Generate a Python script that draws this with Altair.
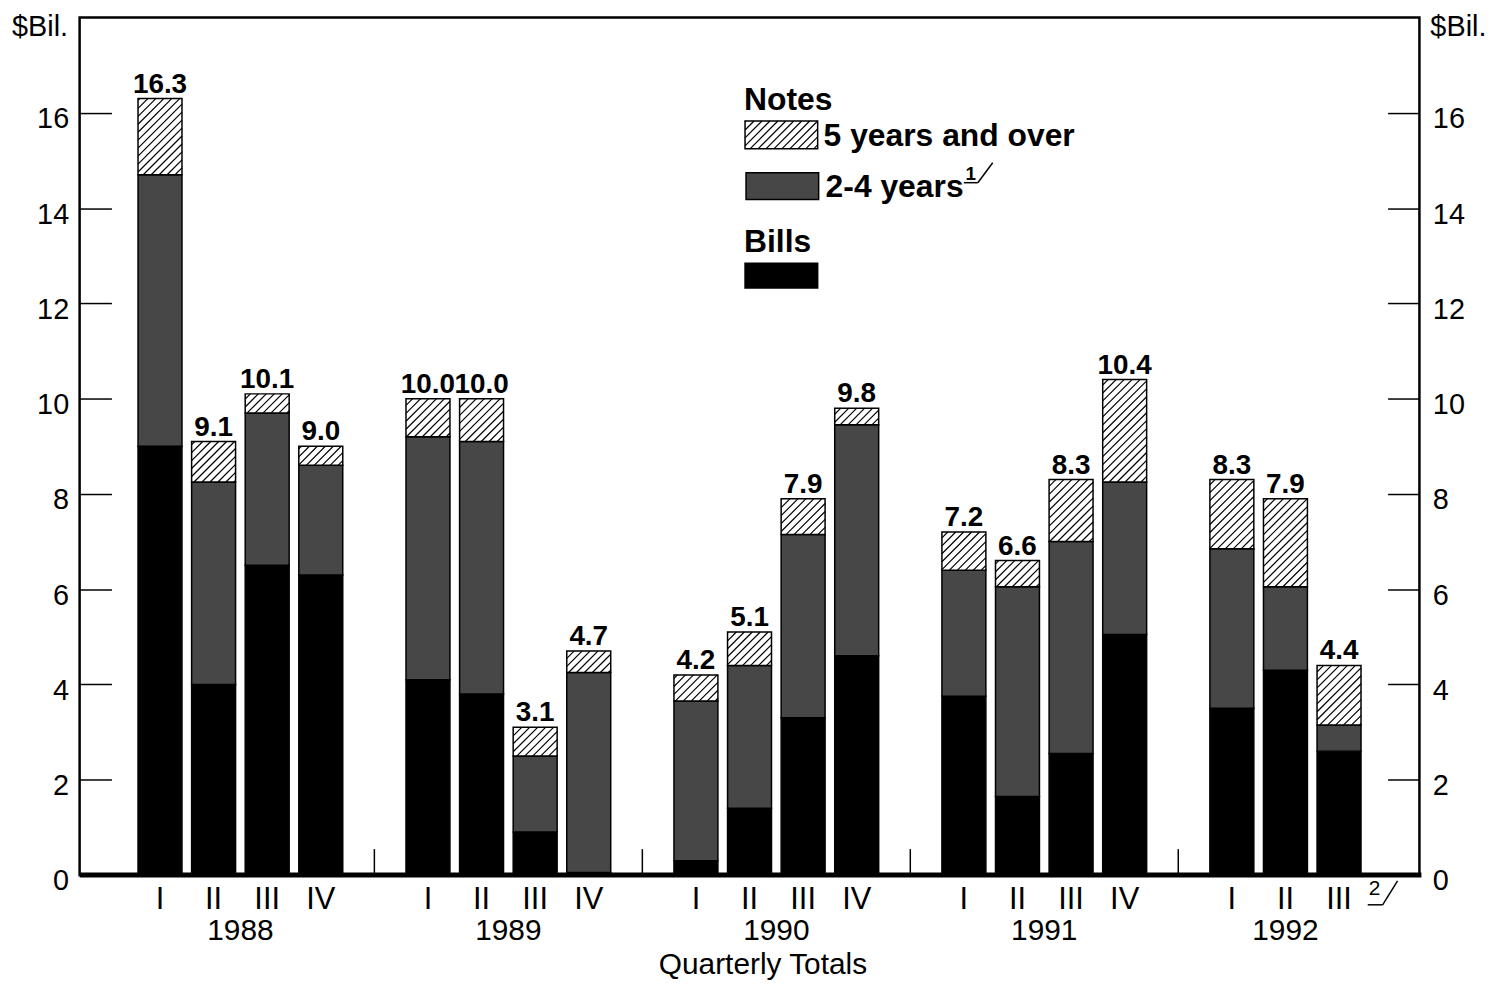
import math
import altair as alt
import pandas as pd

# ---------------- data ----------------
years = ["1988", "1989", "1990", "1991", "1992"]
quarters = [
    ["I", "II", "III", "IV"],
    ["I", "II", "III", "IV"],
    ["I", "II", "III", "IV"],
    ["I", "II", "III", "IV"],
    ["I", "II", "III"],
]
bills = [9.0, 4.0, 6.5, 6.3, 4.1, 3.8, 0.9, 0.05, 0.3, 1.4, 3.3, 4.6,
         3.75, 1.65, 2.55, 5.05, 3.5, 4.3, 2.6]
notes_2_4 = [5.7, 4.25, 3.2, 2.3, 5.1, 5.3, 1.6, 4.2, 3.35, 3.0, 3.85, 4.85,
             2.65, 4.4, 4.45, 3.2, 3.35, 1.75, 0.55]
notes_5_over = [1.6, 0.85, 0.4, 0.4, 0.8, 0.9, 0.6, 0.45, 0.55, 0.7, 0.75, 0.35,
                0.8, 0.55, 1.3, 2.15, 1.45, 1.85, 1.25]
totals = [16.3, 9.1, 10.1, 9.0, 10.0, 10.0, 3.1, 4.7, 4.2, 5.1, 7.9, 9.8,
          7.2, 6.6, 8.3, 10.4, 8.3, 7.9, 4.4]
y_ticks = [0, 2, 4, 6, 8, 10, 12, 14, 16]

# ---------------- layout / style ----------------
FONT = "Liberation Sans"
W, H = 1347, 862
X_MAX, Y_MAX = 25, 18
SLOTS_PER_YEAR = 5
HALF = 0.41
HATCH_STEP = 8.0
SX, SY = W / X_MAX, H / Y_MAX
C_BILLS, C_MID, C_LONG = "#000000", "#474747", "#ffffff"

xscale = alt.Scale(domain=[0, X_MAX], nice=False, zero=False)
yscale = alt.Scale(domain=[0, Y_MAX], nice=False, zero=True)

# ---------------- build tables ----------------
seg_rows, bar_rows = [], []
k = 0
for yi, (yr, qs) in enumerate(zip(years, quarters)):
    for qi, q in enumerate(qs):
        pos = 1.5 + yi * SLOTS_PER_YEAR + qi
        b, m, l = bills[k], notes_2_4[k], notes_5_over[k]
        bar_rows.append(dict(pos=pos, year=yr, quarter=q, total=totals[k],
                             label=f"{totals[k]:.1f}",
                             lo5=b + m, hi5=b + m + l))
        for name, lo, hi in [("Bills", 0, b), ("2-4 years", b, b + m),
                             ("5 years and over", b + m, b + m + l)]:
            seg_rows.append(dict(pos=pos, x0=pos - HALF, x1=pos + HALF,
                                 lo=lo, hi=hi, series=name))
        k += 1
segs = pd.DataFrame(seg_rows)
bars = pd.DataFrame(bar_rows)


def hatch(X0, X1, Y0, Y1):
    """45-degree '/' hatch lines inside a pixel rectangle (y up); returns data units."""
    out = []
    kmin = math.ceil((Y0 - X1) / HATCH_STEP)
    kmax = math.floor((Y1 - X0) / HATCH_STEP)
    for kk in range(kmin, kmax + 1):
        c = kk * HATCH_STEP
        xa = max(X0, Y0 - c)
        xb = min(X1, Y1 - c)
        if xb - xa > 0.8:
            out.append(dict(hx=xa / SX, hy=(xa + c) / SY,
                            hx2=xb / SX, hy2=(xb + c) / SY))
    return out


hrows = []
for r in bar_rows:
    hrows += hatch((r["pos"] - HALF) * SX, (r["pos"] + HALF) * SX,
                   r["lo5"] * SY, r["hi5"] * SY)
# legend hatch box (plot pixels, y down)
LB = dict(x0=669, x1=742, y0=104, y1=132)
hrows += hatch(LB["x0"], LB["x1"], H - LB["y1"], H - LB["y0"])
hatch_df = pd.DataFrame(hrows)

year_df = bars.groupby("year", as_index=False)["pos"].mean()
gap_df = pd.DataFrame({"gap": [SLOTS_PER_YEAR * i + 0.5 for i in range(1, len(years))]})
base_df = pd.DataFrame({"v": [0]})

# ---------------- layers ----------------
left_axis = alt.Axis(orient="left", values=y_ticks, tickSize=32, offset=-32,
                     domain=False, grid=False, labelFontSize=29, labelFont=FONT,
                     labelColor="black", labelPadding=11, labelOffset=6,
                     tickColor="black", tickWidth=1.5, title=None, labelFlush=False)
right_axis = alt.Axis(orient="right", values=y_ticks, tickSize=32, offset=-32,
                      domain=False, grid=False, labelFontSize=29, labelFont=FONT,
                      labelColor="black", labelPadding=13, labelOffset=6,
                      tickColor="black", tickWidth=1.5, title=None, labelFlush=False)

rects = alt.Chart(segs).mark_rect(stroke="black", strokeWidth=1.5).encode(
    x=alt.X("x0:Q", scale=xscale, axis=None),
    x2="x1:Q",
    y=alt.Y("lo:Q", scale=yscale, axis=left_axis),
    y2="hi:Q",
    fill=alt.Fill("series:N", legend=None,
                  scale=alt.Scale(domain=["Bills", "2-4 years", "5 years and over"],
                                  range=[C_BILLS, C_MID, C_LONG])),
)

hatch_lines = alt.Chart(hatch_df).mark_rule(color="black", strokeWidth=1.2).encode(
    x=alt.X("hx:Q", scale=xscale, axis=None),
    x2="hx2:Q",
    y=alt.Y("hy:Q", scale=yscale, axis=None),
    y2="hy2:Q",
)

total_text = alt.Chart(bars).mark_text(
    baseline="alphabetic", dy=-6, fontSize=28, fontWeight="bold", font=FONT, color="black"
).encode(
    x=alt.X("pos:Q", scale=xscale, axis=None),
    y=alt.Y("total:Q", scale=yscale, axis=None),
    text="label:N",
)

baseline = alt.Chart(base_df).mark_rule(color="black", strokeWidth=5).encode(
    y=alt.Y("v:Q", scale=yscale, axis=right_axis),
    x=alt.value(0), x2=alt.value(W + 2),
)

gap_ticks = alt.Chart(gap_df).mark_rule(color="black", strokeWidth=1.5).encode(
    x=alt.X("gap:Q", scale=xscale, axis=None),
    y=alt.value(H), y2=alt.value(H - 26),
)

q_text = alt.Chart(bars).mark_text(
    baseline="middle", fontSize=31, font=FONT, color="black"
).encode(
    x=alt.X("pos:Q", scale=xscale, axis=None),
    y=alt.value(887),
    text="quarter:N",
)

yr_text = alt.Chart(year_df).mark_text(
    baseline="middle", fontSize=30, font=FONT, color="black"
).encode(
    x=alt.X("pos:Q", scale=xscale, axis=None),
    y=alt.value(918),
    text="year:N",
)


def label(text, x, y, size, bold=False, align="left", baseline="middle"):
    return alt.Chart(pd.DataFrame({"t": [text]})).mark_text(
        align=align, baseline=baseline, fontSize=size,
        fontWeight="bold" if bold else "normal", font=FONT, color="black"
    ).encode(x=alt.value(x), y=alt.value(y), text="t:N")


def box(x0, x1, y0, y1, fill):
    return alt.Chart(pd.DataFrame({"t": [0]})).mark_rect(
        fill=fill, stroke="black", strokeWidth=1.5
    ).encode(x=alt.value(x0), x2=alt.value(x1), y=alt.value(y0), y2=alt.value(y1))


def seg(x0, y0, x1, y1, w=1.5):
    return alt.Chart(pd.DataFrame({"t": [0]})).mark_rule(color="black", strokeWidth=w).encode(
        x=alt.value(x0), y=alt.value(y0), x2=alt.value(x1), y2=alt.value(y1))


legend_layers = [
    label("Notes", 668, 83, 32, bold=True),
    box(LB["x0"], LB["x1"], LB["y0"], LB["y1"], C_LONG),
    label("5 years and over", 748, 119, 32, bold=True),
    box(670, 743, 156, 183, C_MID),
    label("2-4 years", 750, 170, 32, bold=True),
    label("1", 896, 157, 19, bold=True, align="center"),
    seg(889, 166, 903, 166),
    seg(903, 166, 918, 146),
    label("Bills", 668, 226, 32, bold=True),
    box(669, 742, 247, 272, C_BILLS),
]

other_text = [
    label("$Bil.", -68, -4, 29, baseline="top"),
    label("$Bil.", 1358, -4, 29, baseline="top"),
    label("Quarterly Totals", 687, 953, 30, align="center"),
    label("2", 1302, 876, 21, align="center"),
    seg(1295, 892, 1310, 892),
    seg(1310, 892, 1325, 868),
]

chart = alt.layer(
    rects, baseline, total_text, gap_ticks, q_text, yr_text,
    *legend_layers, *other_text, hatch_lines
).resolve_axis(y="independent").properties(
    width=W, height=H,
    padding={"left": 72, "top": 7, "right": 80, "bottom": 110},
    autosize=alt.AutoSizeParams(type="none"),
).configure_view(stroke="black", strokeWidth=2.5)

chart.save("out.html", embed_options={"renderer": "svg", "actions": False})
